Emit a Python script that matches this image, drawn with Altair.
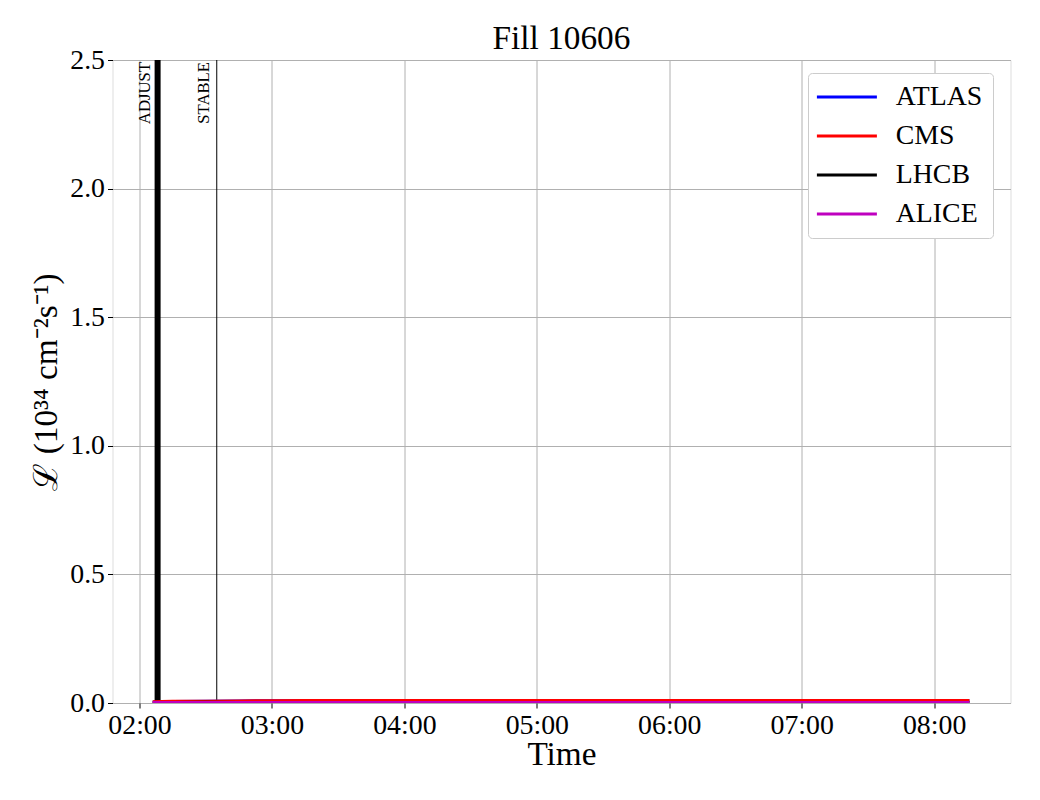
import altair as alt
import pandas as pd

# ---- data ----
times = ["02:06", "02:10", "02:15", "02:30", "02:45", "03:00", "03:15", "03:30",
         "04:00", "04:30", "05:00", "05:30", "06:00", "06:30", "07:00", "07:30",
         "08:00", "08:16"]
atlas = [0.004, 0.005, 0.006, 0.007, 0.008, 0.009, 0.009, 0.009,
         0.009, 0.009, 0.009, 0.009, 0.009, 0.009, 0.009, 0.009, 0.009, 0.009]
cms = [0.005, 0.006, 0.007, 0.007, 0.008, 0.009, 0.0095, 0.0095,
       0.0095, 0.0095, 0.0095, 0.0095, 0.0095, 0.0095, 0.0095, 0.0095, 0.0095, 0.0095]
lhcb = [0.001, 0.001, 0.002, 0.003, 0.002, 0.001, 0.001, 0.001,
        0.001, 0.001, 0.001, 0.001, 0.001, 0.001, 0.001, 0.001, 0.001, 0.001]
alice = [0.002] * len(times)

series = ["ATLAS", "CMS", "LHCB", "ALICE"]
colors = ["#0000ff", "#ff0000", "#000000", "#bf00bf"]

event_names = ["ADJUST", "STABLE"]
event_times = ["02:08:12", "02:35:00"]
event_widths = [6, 1]

y_ticks = [0.0, 0.5, 1.0, 1.5, 2.0, 2.5]
x_tick_hours = [2, 3, 4, 5, 6, 7, 8]

DAY = "2025-05-20T"
FONT = "Liberation Serif"

rows = []
for name, vals in zip(series, [atlas, cms, lhcb, alice]):
    for t, v in zip(times, vals):
        rows.append({"time": DAY + t + ":00Z", "lumi": v, "exp": name})
df = pd.DataFrame(rows)

ev = pd.DataFrame({"name": event_names,
                   "time": [DAY + t + "Z" for t in event_times],
                   "w": event_widths})

x_scale = alt.Scale(type="utc", domain=[DAY + "01:47:46Z", DAY + "08:34:36Z"])
y_scale = alt.Scale(domain=[0, 2.5], nice=False)

x_axis = alt.Axis(
    title="Time", format="%H:%M",
    values=[alt.DateTime(year=2025, month=5, date=20, hours=h, utc=True) for h in x_tick_hours],
    labelFontSize=27.8, titleFontSize=33.3, titleFontWeight="normal",
    labelFont=FONT, titleFont=FONT, labelColor="black", titleColor="black",
    tickColor="black", tickSize=5, labelPadding=3, titlePadding=0,
    domain=False, gridColor="#b0b0b0", gridWidth=1, labelFlush=False,
)
y_axis = alt.Axis(
    title="ℒ (10³⁴ cm⁻²s⁻¹)", values=y_ticks, format=".1f",
    labelFontSize=27.8, titleFontSize=33.3, titleFontWeight="normal",
    labelFont=FONT, titleFont=FONT, labelColor="black", titleColor="black",
    tickColor="black", tickSize=5, labelPadding=3, titlePadding=6,
    domain=False, gridColor="#b0b0b0", gridWidth=1, labelFlush=False,
)

color = alt.Color(
    "exp:N",
    scale=alt.Scale(domain=series, range=colors),
    legend=alt.Legend(
        title=None, orient="none", legendX=695.5, legendY=13,
        symbolType="M-3,0H3", symbolSize=400, symbolStrokeWidth=3,
        symbolOffset=15, labelOffset=35,
        labelFontSize=27.8, labelFont=FONT, labelColor="black",
        rowPadding=10, padding=10,
        strokeColor="#cccccc", cornerRadius=4, fillColor="white",
    ),
    sort=series,
)

layers = []
for name in series:
    layers.append(
        alt.Chart(df).transform_filter(alt.datum.exp == name)
        .mark_line(strokeWidth=3, clip=True)
        .encode(x=alt.X("time:T", scale=x_scale, axis=x_axis),
                y=alt.Y("lumi:Q", scale=y_scale, axis=y_axis),
                color=color)
    )

rules = alt.Chart(ev).mark_rule(color="black").encode(
    x=alt.X("time:T", scale=x_scale),
    strokeWidth=alt.StrokeWidth("w:Q", scale=None, legend=None),
)
labels = alt.Chart(ev).mark_text(
    angle=270, align="right", baseline="bottom", dy=-4,
    font=FONT, fontSize=16.7, color="black",
).encode(x=alt.X("time:T", scale=x_scale), y=alt.value(2), text="name:N")

chart = alt.layer(rules, *layers, labels).properties(
    width=898, height=643,
    title=alt.TitleParams("Fill 10606", fontSize=33.3, font=FONT, fontWeight="normal",
                          color="black", offset=-10),
    autosize=alt.AutoSizeParams(type="none"),
    padding={"left": 104.5, "top": 52, "right": 20, "bottom": 80},
).configure_view(stroke="black", strokeWidth=1).configure(background="white")

chart.save("out.html", embed_options={"renderer": "svg", "actions": False})
